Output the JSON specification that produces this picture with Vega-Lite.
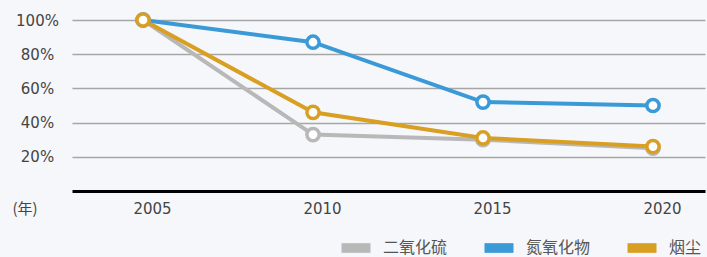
{
  "$schema": "https://vega.github.io/schema/vega-lite/v6.json",
  "autosize": {"type": "none"},
  "width": 633,
  "height": 171,
  "padding": {"left": 72, "top": 20, "right": 2, "bottom": 66},
  "background": "#f6f7fa",
  "config": {"view": {"stroke": null}},
  "data": {
    "values": [
      {"year": 2005, "series": "二氧化硫", "value": 100},
      {"year": 2010, "series": "二氧化硫", "value": 33},
      {"year": 2015, "series": "二氧化硫", "value": 30},
      {"year": 2020, "series": "二氧化硫", "value": 25},
      {"year": 2005, "series": "氮氧化物", "value": 100},
      {"year": 2010, "series": "氮氧化物", "value": 87},
      {"year": 2015, "series": "氮氧化物", "value": 52},
      {"year": 2020, "series": "氮氧化物", "value": 50},
      {"year": 2005, "series": "烟尘", "value": 100},
      {"year": 2010, "series": "烟尘", "value": 46},
      {"year": 2015, "series": "烟尘", "value": 31},
      {"year": 2020, "series": "烟尘", "value": 26}
    ]
  },
  "encoding": {
    "x": {
      "field": "year", "type": "quantitative",
      "scale": {"domain": [2002.91, 2021.53], "nice": false, "zero": false},
      "axis": {
        "values": [2005, 2010, 2015, 2020], "format": "d",
        "title": "(年)", "titleX": -60, "titleY": 17, "titleAlign": "left", "titleAnchor": null,
        "titleBaseline": "middle", "titleFont": "Noto Sans CJK SC", "titleFontSize": 15,
        "titleFontWeight": "normal", "titleColor": "#444444",
        "ticks": false, "tickSize": 0, "grid": false,
        "domainColor": "#000000", "domainWidth": 3,
        "labelFont": "DejaVu Sans", "labelFontSize": 15, "labelColor": "#444444",
        "labelPadding": 17, "labelBaseline": "middle", "labelOffset": 9
      }
    },
    "y": {
      "field": "value", "type": "quantitative",
      "scale": {"domain": [0, 100], "nice": false},
      "axis": {
        "values": [20, 40, 60, 80, 100], "labelExpr": "datum.value + '%'",
        "title": null, "domain": false, "ticks": false, "tickSize": 0,
        "grid": true, "gridColor": "#a6a6a6", "gridWidth": 1.5,
        "labelFont": "DejaVu Sans", "labelFontSize": 15, "labelColor": "#444444",
        "labelAlign": "center", "labelPadding": 35, "labelBaseline": "middle"
      }
    },
    "color": {
      "field": "series", "type": "nominal",
      "sort": ["二氧化硫", "氮氧化物", "烟尘"],
      "scale": {"domain": ["二氧化硫", "氮氧化物", "烟尘"], "range": ["#b8b8b8", "#3a9ad8", "#d99f22"]},
      "legend": {
        "title": null, "orient": "none", "direction": "horizontal",
        "legendX": 274, "legendY": 218, "padding": 0,
        "symbolType": "M-1.5,-0.5H1.5V0.5H-1.5Z", "symbolSize": 374,
        "symbolStrokeWidth": 0, "symbolOpacity": 1,
        "labelFont": "Noto Sans CJK SC", "labelFontSize": 16, "labelColor": "#555555",
        "labelOffset": 17, "columnPadding": 36,
        "encode": {"symbols": {"update": {"fill": {"scale": "color", "field": "value"}, "strokeWidth": {"value": 0}}}}
      }
    },
    "order": {"field": "year"}
  },
  "layer": [
    {"mark": {"type": "line", "strokeWidth": 4}},
    {"mark": {"type": "point", "filled": false, "fill": "#ffffff", "strokeWidth": 3.5, "size": 150, "opacity": 1}}
  ]
}
